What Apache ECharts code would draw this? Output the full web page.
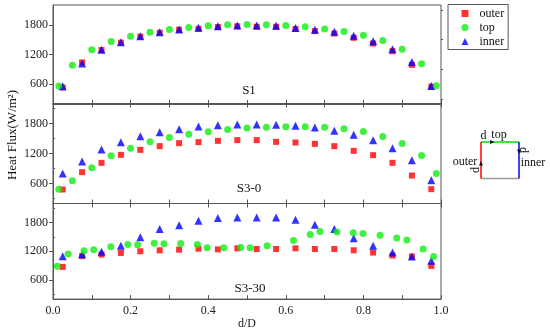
<!DOCTYPE html>
<html><head><meta charset="utf-8">
<script src="https://cdn.jsdelivr.net/npm/echarts@6/dist/echarts.min.js"></script>
<style>html,body{margin:0;padding:0;background:#fff}#c{width:550px;height:331px}</style>
</head><body><div id="c"></div>
<script>
// ---- data ----
const xTop = [0.015, 0.05, 0.1, 0.15, 0.2, 0.25, 0.3, 0.35, 0.4, 0.45, 0.5, 0.55, 0.6, 0.65, 0.7, 0.75, 0.8, 0.85, 0.9, 0.95, 0.988];
const xSide = [0.025, 0.075, 0.125, 0.175, 0.225, 0.275, 0.325, 0.375, 0.425, 0.475, 0.525, 0.575, 0.625, 0.675, 0.725, 0.775, 0.825, 0.875, 0.925, 0.975];

const s1Top   = [566, 985, 1294, 1462, 1571, 1652, 1705, 1745, 1780, 1800, 1806, 1800, 1786, 1760, 1713, 1665, 1591, 1482, 1308, 1011, 571];
const s1Outer = [535, 1040, 1290, 1440, 1560, 1640, 1700, 1720, 1755, 1770, 1760, 1760, 1715, 1673, 1624, 1537, 1422, 1267, 990, 551];
const s1Inner = [560, 1020, 1295, 1450, 1568, 1648, 1705, 1740, 1770, 1785, 1785, 1780, 1733, 1700, 1658, 1577, 1470, 1308, 1051, 565];

const s30Top   = [486, 654, 914, 1153, 1307, 1433, 1520, 1587, 1633, 1680, 1710, 1727, 1733, 1733, 1727, 1693, 1640, 1540, 1400, 1160, 800];
const s30Outer = [480, 827, 1013, 1173, 1273, 1347, 1407, 1427, 1453, 1467, 1467, 1433, 1420, 1393, 1347, 1253, 1167, 1013, 760, 487];
const s30Inner = [800, 1040, 1280, 1427, 1547, 1627, 1687, 1740, 1767, 1780, 1780, 1773, 1753, 1720, 1653, 1573, 1467, 1307, 1067, 667];

const xTop330 = [0.011, 0.039, 0.08, 0.105, 0.149, 0.193, 0.218, 0.261, 0.286, 0.329, 0.372, 0.397, 0.44, 0.484, 0.508, 0.552, 0.62, 0.663, 0.688, 0.732, 0.774, 0.799, 0.843, 0.886, 0.912, 0.954, 0.981];
const s330Top   = [886, 1146, 1213, 1234, 1296, 1344, 1336, 1371, 1357, 1364, 1344, 1275, 1275, 1282, 1275, 1316, 1426, 1549, 1616, 1602, 1589, 1575, 1534, 1480, 1439, 1248, 1091];
const s330Outer = [874, 1099, 1132, 1166, 1201, 1221, 1234, 1255, 1241, 1262, 1248, 1248, 1262, 1248, 1248, 1221, 1173, 1111, 1091, 894];
const s330Inner = [1099, 1140, 1193, 1316, 1493, 1664, 1745, 1841, 1896, 1909, 1909, 1909, 1861, 1753, 1664, 1473, 1316, 1173, 1091, 1003];

const panelNames = ['S1', 'S3-0', 'S3-30'];
const yTickLabels = [600, 1200, 1800];
const yMinorTicks = [300, 900, 1500, 2100];
const xTickLabels = [0, 0.2, 0.4, 0.6, 0.8, 1.0];

// ---- chart ----
const FONT = 'Liberation Serif';
const AX = '#555';
const RED = '#ff0000', GREEN = '#11ee11', BLUE = '#0000ff';
const zip = (xs, ys) => xs.map((x, i) => [x, ys[i]]);

const grids = [
  {left: 53, width: 388, top: 5, height: 99},
  {left: 53, width: 388, top: 103.5, height: 100},
  {left: 53, width: 388, top: 203.5, height: 97.5}
].map(g => Object.assign(g, {show: true, borderColor: AX, borderWidth: 1, backgroundColor: 'transparent'}));

const xAxis = [];
for (let i = 0; i < 3; i++) {
  xAxis.push({
    type: 'value', gridIndex: i, min: 0, max: 1, interval: 0.1, position: 'bottom',
    axisLine: {show: true, lineStyle: {color: AX, width: 1}},
    axisTick: {show: true, inside: true, length: 4, lineStyle: {color: AX}},
    axisLabel: {show: i === 2, customValues: xTickLabels, margin: 6,
      formatter: v => v.toFixed(1), color: '#222', fontFamily: FONT, fontSize: 12},
    splitLine: {show: false},
    name: i === 2 ? 'd/D' : '', nameLocation: 'middle', nameGap: 17,
    nameTextStyle: {fontFamily: FONT, fontSize: 12, color: '#222'}
  });
}
for (let i = 1; i < 3; i++) {
  xAxis.push({
    type: 'value', gridIndex: i, min: 0, max: 1, interval: 0.1, position: 'top',
    axisLine: {show: true, lineStyle: {color: AX}},
    axisTick: {show: true, inside: true, length: 4, lineStyle: {color: AX}},
    axisLabel: {show: false}, splitLine: {show: false}
  });
}
const yAxis = [];
for (let i = 0; i < 3; i++) {
  yAxis.push({
    type: 'value', gridIndex: i, min: 200, max: 2200,
    axisLine: {show: true, lineStyle: {color: AX}},
    axisTick: {show: true, inside: false, length: 4, customValues: yTickLabels, lineStyle: {color: AX}},
    axisLabel: {show: true, customValues: yTickLabels, margin: 5, formatter: v => String(v),
      color: '#222', fontFamily: FONT, fontSize: 12},
    splitLine: {show: false}
  });
}
for (let i = 0; i < 3; i++) {
  yAxis.push({
    type: 'value', gridIndex: i, min: 200, max: 2200,
    axisLine: {show: false},
    axisTick: {show: true, inside: false, length: 2, customValues: yMinorTicks, lineStyle: {color: AX}},
    axisLabel: {show: false}, splitLine: {show: false}
  });
}

const panels = [
  {outer: zip(xSide, s1Outer), inner: zip(xSide, s1Inner), top: zip(xTop, s1Top)},
  {outer: zip(xSide, s30Outer), inner: zip(xSide, s30Inner), top: zip(xTop, s30Top)},
  {outer: zip(xSide, s330Outer), inner: zip(xSide, s330Inner), top: zip(xTop330, s330Top)}
];
const series = [];
panels.forEach((p, i) => {
  series.push({name: 'outer', type: 'scatter', xAxisIndex: i, yAxisIndex: i, symbol: 'rect', symbolSize: 6,
    itemStyle: {color: RED}, data: p.outer, z: 2});
  series.push({name: 'inner', type: 'scatter', xAxisIndex: i, yAxisIndex: i, symbol: 'triangle', symbolSize: 8,
    itemStyle: {color: BLUE}, data: p.inner, z: 3});
  series.push({name: 'top', type: 'scatter', xAxisIndex: i, yAxisIndex: i, symbol: 'circle', symbolSize: 7,
    itemStyle: {color: GREEN}, data: p.top, z: 4});
});

const txt = (x, y, t) => ({type: 'text', x, y,
  style: {text: t, fill: '#111', font: '12px "' + FONT + '"', textAlign: 'center', textVerticalAlign: 'middle'}});

const graphic = [
  {type: 'text', x: 13, y: 135, rotation: Math.PI / 2,
    style: {text: 'Heat Flux(W/m²)', fill: '#111', font: '13px "' + FONT + '"', textAlign: 'center', textVerticalAlign: 'middle'}},
  {type: 'text', x: 249, y: 91, style: {text: panelNames[0], fill: '#111', font: '13px "' + FONT + '"', textAlign: 'center', textVerticalAlign: 'middle'}},
  {type: 'text', x: 249, y: 189, style: {text: panelNames[1], fill: '#111', font: '13px "' + FONT + '"', textAlign: 'center', textVerticalAlign: 'middle'}},
  {type: 'text', x: 250, y: 289, style: {text: panelNames[2], fill: '#111', font: '13px "' + FONT + '"', textAlign: 'center', textVerticalAlign: 'middle'}},
  {type: 'line', shape: {x1: 481, y1: 178.5, x2: 519, y2: 178.5}, style: {stroke: '#999', lineWidth: 1.5}},
  {type: 'line', shape: {x1: 481, y1: 142, x2: 519, y2: 142}, style: {stroke: '#00dd00', lineWidth: 1.5}},
  {type: 'line', shape: {x1: 519, y1: 142, x2: 519, y2: 178.5}, style: {stroke: '#0000ff', lineWidth: 1.5}},
  {type: 'line', shape: {x1: 481, y1: 142, x2: 481, y2: 178.5}, style: {stroke: '#ff0000', lineWidth: 1.5}},
  {type: 'polygon', shape: {points: [[490, 140], [494.5, 142], [490, 144]]}, style: {fill: '#111'}},
  {type: 'polygon', shape: {points: [[517, 149.5], [519, 154], [521, 149.5]]}, style: {fill: '#111'}},
  {type: 'polygon', shape: {points: [[479, 165.5], [481, 161], [483, 165.5]]}, style: {fill: '#111'}},
  txt(483.5, 135.5, 'd'),
  txt(499, 134.5, 'top'),
  txt(533, 163, 'inner'),
  txt(465, 162, 'outer'),
  Object.assign(txt(523, 150, 'd'), {rotation: -Math.PI / 2}),
  Object.assign(txt(475.5, 170, 'd'), {rotation: Math.PI / 2})
];

const chart = echarts.init(document.getElementById('c'), null, {renderer: 'canvas'});
chart.setOption({
  animation: false,
  backgroundColor: '#fff',
  grid: grids,
  xAxis, yAxis, series, graphic,
  legend: {
    data: [{name: 'outer', icon: 'rect'}, {name: 'top', icon: 'circle'}, {name: 'inner', icon: 'triangle'}],
    orient: 'vertical', left: 448, top: 4.5,
    padding: [3, 4, 2, 13.5], itemGap: 2, itemWidth: 7, itemHeight: 7,
    borderColor: AX, borderWidth: 1, backgroundColor: '#fff',
    textStyle: {fontFamily: FONT, fontSize: 12, color: '#111', padding: [0, 0, 0, 6]},
    selectedMode: false
  }
});
</script></body></html>
